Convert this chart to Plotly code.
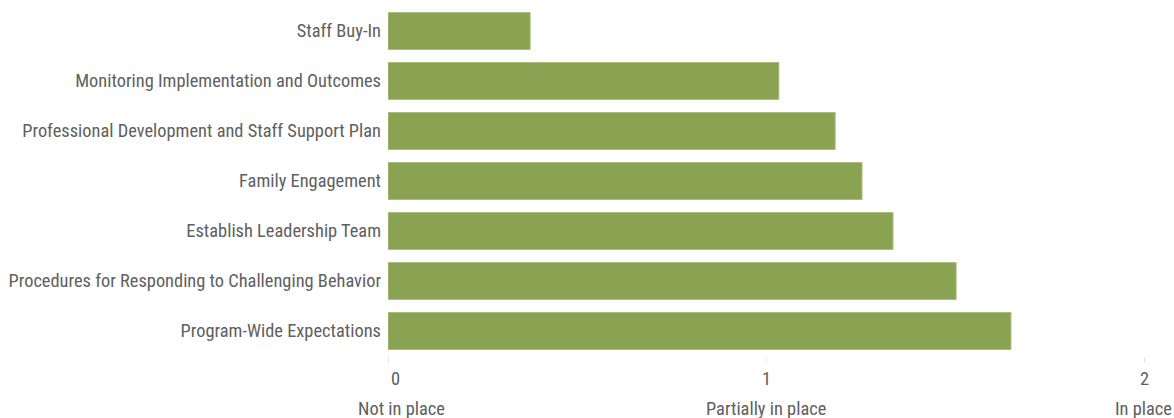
import plotly.graph_objects as go

categories = [
    "Program-Wide Expectations",
    "Procedures for Responding to Challenging Behavior",
    "Establish Leadership Team",
    "Family Engagement",
    "Professional Development and Staff Support Plan",
    "Monitoring Implementation and Outcomes",
    "Staff Buy-In",
]
values = [1.648, 1.503, 1.336, 1.254, 1.183, 1.034, 0.376]
tick_values = [0, 1, 2]
tick_numbers = ["0", "1", "2"]
tick_names = ["Not in place", "Partially in place", "In place"]

FONT = "Roboto Condensed, Liberation Sans Narrow, Roboto, Arial, sans-serif"
TEXT = "#606060"
SIZE = 18.4

fig = go.Figure(go.Bar(
    x=values, y=categories, orientation="h",
    marker=dict(color="#8aa352", line=dict(color="#a9be7c", width=1)),
    hoverinfo="x+y",
))

# the first label is nudged right so it does not overhang the left edge
number_nudge = [7, 0, 0]
name_nudge = [13, 0, -1]

annotations = []
for v, num, name, dn, dm in zip(tick_values, tick_numbers, tick_names,
                                number_nudge, name_nudge):
    annotations.append(dict(x=v, y=0, xref="x", yref="paper", text=num,
                            showarrow=False, yanchor="middle", yshift=-22,
                            xshift=dn,
                            font=dict(family=FONT, size=SIZE, color=TEXT)))
    annotations.append(dict(x=v, y=0, xref="x", yref="paper", text=name,
                            showarrow=False, yanchor="middle", yshift=-52,
                            xshift=dm,
                            font=dict(family=FONT, size=SIZE, color=TEXT)))

fig.update_layout(
    width=1174, height=418,
    margin=dict(l=388, r=30, t=8, b=62, pad=0),
    paper_bgcolor="white", plot_bgcolor="white",
    bargap=0.26,
    showlegend=False,
    font=dict(family=FONT, size=SIZE, color=TEXT),
    xaxis=dict(range=[0, 2], tickvals=tick_values, showticklabels=False,
               showgrid=False, zeroline=False, showline=False,
               ticks="outside", ticklen=6, tickcolor="#e3e3e3"),
    yaxis=dict(range=[-0.5, 6.46], showgrid=False, zeroline=False,
               showline=False, ticks="", ticklabelstandoff=6,
               tickfont=dict(family=FONT, size=SIZE, color=TEXT)),
    annotations=annotations,
)

fig.write_html(
    "out.html",
    config={"displayModeBar": False},
    post_script="document.body.style.margin='0';document.body.style.overflow='hidden';",
)
